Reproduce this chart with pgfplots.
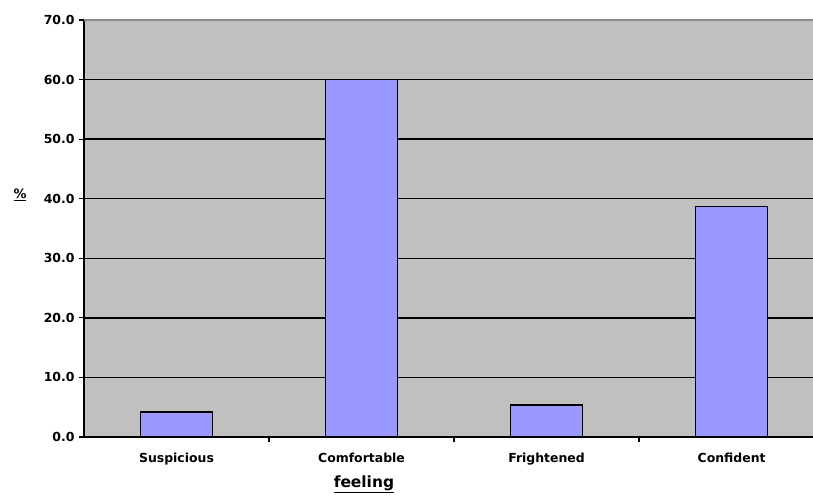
\documentclass[border=0pt]{standalone}
\usepackage{pgfplots}
\pgfplotsset{compat=1.18}
\usepackage{fontspec}
\setmainfont{DejaVu Sans}
\definecolor{plotbg}{HTML}{C0C0C0}
\definecolor{barfill}{HTML}{9999FF}
\begin{document}
\begin{tikzpicture}
\begin{axis}[name=ax,
    scale only axis, width=729bp, height=417bp,
    ybar, bar width=72bp,
    xmin=-0.5, xmax=3.44, ymin=0, ymax=70,
    axis background/.style={fill=plotbg},
    axis x line*=bottom, axis y line*=left,
    axis line style={black, line width=1.5pt},
    ytick={0,10,...,60},
    extra y ticks={70},
    extra y tick style={grid style={draw=gray!90, line width=1.5pt}},
    ymajorgrids, grid style={black, line width=1.5pt},
    yticklabel={\pgfmathprintnumber[fixed,fixed zerofill,precision=1]{\tick}},
    /pgf/number format/assume math mode=true,
    xtick={0.5,1.5,2.5},
    xticklabels={},
    extra x ticks={0,1,2,3},
    extra x tick labels={Suspicious,Comfortable,Frightened,Confident},
    extra x tick style={xtick style={draw=none}},
    major tick length=5bp,
    tick align=outside,
    tick style={black, line width=1.2pt},
    ticklabel style={font=\bfseries\fontsize{12.5}{14}\selectfont},
    xticklabel style={yshift=-8bp},
    yticklabel style={xshift=-1bp},
    xlabel={\textbf{\underline{feeling}}},
    xlabel style={font=\fontsize{15.5}{17}\selectfont, at={(rel axis cs:0.384,0)}, anchor=north, yshift=-35bp},
    clip=false,
  ]
  \addplot[fill=barfill, draw=black, line width=1.5pt] coordinates {(0,4.2) (1,60.0) (2,5.4) (3,38.7)};
  \node[font=\bfseries\fontsize{13}{15}\selectfont] at (rel axis cs:0,0.58) [xshift=-64bp] {\underline{\%}};
\end{axis}
\pgfresetboundingbox
\path[use as bounding box] ([xshift=-84bp,yshift=-59bp]ax.south west) rectangle ([yshift=20bp]ax.north east);
\end{tikzpicture}
\end{document}
